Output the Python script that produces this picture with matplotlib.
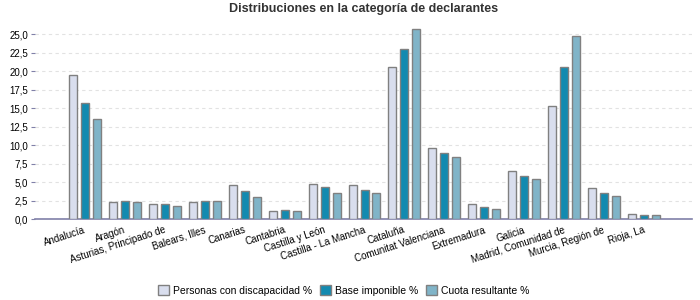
import matplotlib
matplotlib.use("Agg")
import matplotlib.pyplot as plt
from matplotlib.ticker import MultipleLocator, FuncFormatter
import numpy as np

plt.rcParams["font.family"] = ["Liberation Sans", "DejaVu Sans"]

# --- data ---
Regions = ["Andalucía", "Aragón", "Asturias, Principado de", "Balears, Illes",
           "Canarias", "Cantabria", "Castilla y León", "Castilla - La Mancha",
           "Cataluña", "Comunitat Valenciana", "Extremadura", "Galicia",
           "Madrid, Comunidad de", "Murcia, Región de", "Rioja, La"]
Personas = [19.46, 2.30, 2.03, 2.30, 4.59, 1.08, 4.73, 4.59,
            20.54, 9.59, 2.03, 6.49, 15.27, 4.19, 0.68]
Base = [15.68, 2.48, 2.03, 2.48, 3.78, 1.22, 4.32, 3.92,
        23.06, 8.92, 1.62, 5.81, 20.54, 3.51, 0.54]
Cuota = [13.51, 2.30, 1.76, 2.48, 2.97, 1.08, 3.51, 3.51,
         25.68, 8.38, 1.35, 5.41, 24.73, 3.11, 0.54]
Series_names = ["Personas con discapacidad %", "Base imponible %",
                "Cuota resultante %"]
Colours = ["#D9DEEE", "#138AB0", "#80B4C8"]

# --- plot ---
fig = plt.figure(figsize=(7, 3), dpi=100)
ax = fig.add_axes([0.05, 0.269, 0.9386, 0.641])

x = np.arange(len(Regions))
w = 0.2
for k, vals in enumerate([Personas, Base, Cuota]):
    ax.bar(x + (k - 1) * 0.3, vals, width=w, color=Colours[k],
           edgecolor="#808080", linewidth=1, label=Series_names[k], zorder=3)

ax.set_xlim(-1.25, 15.2)
ax.set_ylim(0, 26)
ax.yaxis.set_major_locator(MultipleLocator(2.5))
ax.yaxis.set_major_formatter(FuncFormatter(lambda v, p: ("%.1f" % v).replace(".", ",")))
ax.grid(axis="y", color="#e2e2e2", linestyle=(0, (3, 3)), linewidth=0.8, zorder=0)

for s in ["top", "right", "left"]:
    ax.spines[s].set_visible(False)
ax.spines["bottom"].set_color("#8080a8")
ax.spines["bottom"].set_linewidth(1.2)

ax.tick_params(axis="y", length=3, color="#8080a8", labelsize=7, pad=2)
ax.tick_params(axis="x", length=0, labelsize=7, pad=4)
ax.set_xticks(x + 0.05)
ax.set_xticklabels(Regions, rotation=18, ha="right", rotation_mode="default")

ax.set_title("Distribuciones en la categoría de declarantes", fontsize=9,
             fontweight="bold", color="#333333", pad=11)

ax.legend(loc="upper center", bbox_to_anchor=(0.47, -0.295), ncol=3,
          frameon=False, fontsize=7.5, handlelength=1.0, handleheight=1.0,
          handletextpad=0.4, columnspacing=0.8)

plt.savefig("out.png", dpi=100)
